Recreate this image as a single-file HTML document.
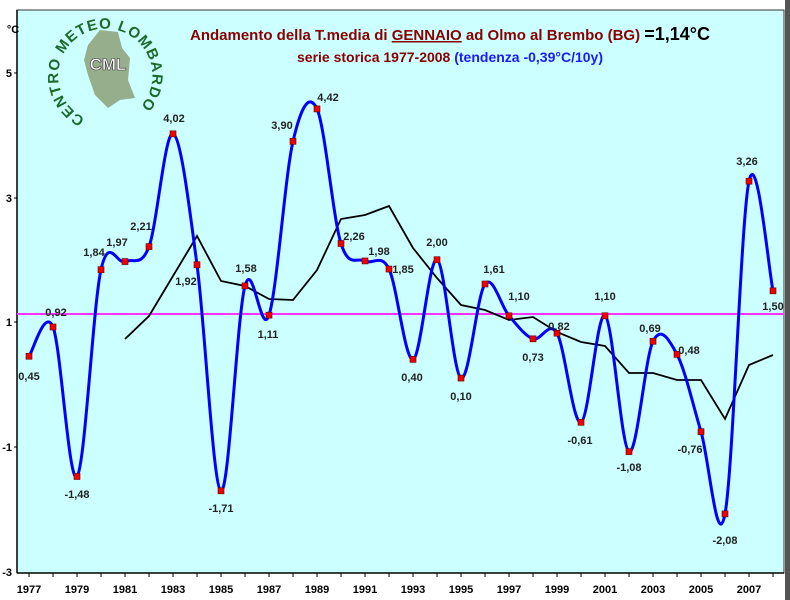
<!DOCTYPE html>
<html><head><meta charset="utf-8"><style>
body{margin:0;background:#fff;}
svg{display:block;font-family:"Liberation Sans",Arial,sans-serif;}
</style></head><body>
<svg id="s" width="790" height="600" viewBox="0 0 790 600" xmlns="http://www.w3.org/2000/svg">
<rect x="0" y="0" width="790" height="600" fill="#fff"/>
<rect x="785" y="0" width="5" height="600" fill="#555"/>
<rect x="17" y="10" width="767" height="563" fill="#ccffff" stroke="#333" stroke-width="1"/>
<line x1="17" y1="10" x2="17" y2="573" stroke="#000" stroke-width="1.5"/>
<line x1="17" y1="573" x2="784" y2="573" stroke="#000" stroke-width="1.5"/>
<g font-size="11" font-weight="bold" fill="#000" text-anchor="end">
<text x="13" y="33" text-anchor="middle" font-size="11">°C</text>
<text x="12" y="77">5</text><text x="12" y="202">3</text><text x="12" y="326">1</text>
<text x="12" y="451">-1</text><text x="12" y="576">-3</text>
</g>
<g stroke="#000" stroke-width="1">
<line x1="14" y1="73" x2="17" y2="73"/><line x1="14" y1="198" x2="17" y2="198"/>
<line x1="14" y1="322" x2="17" y2="322"/><line x1="14" y1="447" x2="17" y2="447"/>
</g>
<g id="xt"></g>
<line x1="17" y1="314" x2="784" y2="314" stroke="#ff33ff" stroke-width="2"/>
<g>
<defs><path id="circ" d="M 85 118 A 47 47 0 1 1 135 112"/></defs>
<path d="M88 45 L100 30 L118 32 L122 48 L130 58 L128 80 L135 98 L120 100 L108 108 L95 95 L88 75 L84 60 Z" fill="#8a9a70" opacity="0.8"/>
<text font-size="15" font-weight="bold" fill="#1a6a2a" letter-spacing="1"><textPath href="#circ">CENTRO METEO LOMBARDO</textPath></text>
<text x="108" y="70" font-size="17" font-weight="bold" fill="#fff" stroke="#333" stroke-width="0.6" text-anchor="middle">CML</text>
</g>
<text x="450" y="40" text-anchor="middle" font-size="15" font-weight="bold" fill="#8b0000">Andamento della T.media di <tspan text-decoration="underline">GENNAIO</tspan> ad Olmo al Brembo (BG) <tspan fill="#000" font-size="18">=1,14°C</tspan></text>
<text x="450" y="62" text-anchor="middle" font-size="14" font-weight="bold" fill="#8b0000">serie storica 1977-2008 <tspan fill="#1a1aff">(tendenza -0,39°C/10y)</tspan></text>
<path id="ma" fill="none" stroke="#000" stroke-width="1.8"/>
<path id="bl" fill="none" stroke="#0000ff" stroke-width="3"/>
<g id="pts"></g>
<g id="lbl" font-size="11" font-weight="bold" fill="#222" text-anchor="middle"></g>
</svg>
<script>
var v=[0.45,0.92,-1.48,1.84,1.97,2.21,4.02,1.92,-1.71,1.58,1.11,3.90,4.42,2.26,1.98,1.85,0.40,2.00,0.10,1.61,1.10,0.73,0.82,-0.61,1.10,-1.08,0.69,0.48,-0.76,-2.08,3.26,1.50];
function X(i){return 29+24*i;} function Y(t){return 384.3-t*62.3;}
var P=v.map(function(t,i){return [X(i),Y(t)];});
var d="M"+P[0][0]+" "+P[0][1];
for(var i=0;i<P.length-1;i++){var p0=P[i-1]||P[i],p1=P[i],p2=P[i+1],p3=P[i+2]||P[i+1];var k=1/6;
d+=" C"+(p1[0]+(p2[0]-p0[0])*k)+" "+(p1[1]+(p2[1]-p0[1])*k)+" "+(p2[0]-(p3[0]-p1[0])*k)+" "+(p2[1]-(p3[1]-p1[1])*k)+" "+p2[0]+" "+p2[1];}
document.getElementById("bl").setAttribute("d",d);
var ma=[[125,339],[149,316],[197,236],[221,281],[245,286],[269,299],[293,300],[317,270],[341,219],[365,215],[389,206],[413,248],[437,278],[461,305],[485,310],[509,320],[533,317],[557,332],[581,342],[605,346],[629,373],[653,373],[677,380],[701,380],[725,419],[749,365],[773,355]];
document.getElementById("ma").setAttribute("d","M"+ma.map(function(p){return p.join(" ")}).join(" L"));
var g=document.getElementById("pts"),s="";
P.forEach(function(p){s+='<rect x="'+(p[0]-3)+'" y="'+(p[1]-3)+'" width="6" height="6" fill="#e00" stroke="#600" stroke-width="0.6"/>';});
g.innerHTML=s;
var L=[[29,380],[56,316],[77,498],[94,256],[117,246],[141,230],[174,122],[186,285],[221,512],[246,272],[268,338],[282,129],[328,101],[354,240],[379,255],[403,273],[412,381],[437,246],[461,400],[494,273],[519,300],[533,361],[559,330],[580,444],[605,300],[629,471],[650,332],[689,354],[690,453],[725,544],[747,165],[773,310]];
var h="";L.forEach(function(l,i){h+='<text x="'+l[0]+'" y="'+l[1]+'">'+v[i].toFixed(2).replace(".",",")+'</text>';});
document.getElementById("lbl").innerHTML=h;
var xt="";for(var y=1977;y<=2008;y++){var x=X(y-1977);xt+='<line x1="'+x+'" y1="573" x2="'+x+'" y2="577" stroke="#000"/>';if(y%2==1)xt+='<text x="'+x+'" y="593" font-size="11" font-weight="bold" text-anchor="middle">'+y+'</text>';}
document.getElementById("xt").innerHTML=xt;
</script>
</body></html>
